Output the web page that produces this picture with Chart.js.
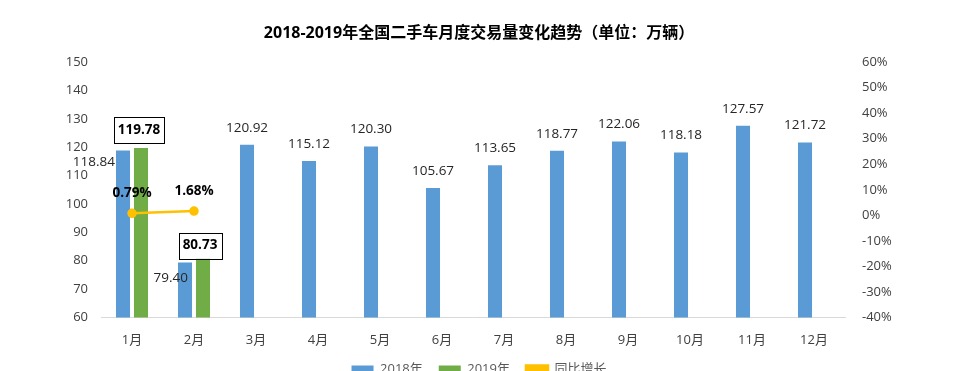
<!DOCTYPE html>
<html>
<head>
<meta charset="utf-8">
<script src="https://cdn.jsdelivr.net/npm/chart.js@4.4.1/dist/chart.umd.min.js"></script>
<style>
  html, body { margin: 0; padding: 0; background: #fff; overflow: hidden; }
  #wrap { width: 958px; height: 386px; }
</style>
</head>
<body>
<div id="wrap"><canvas id="chart"></canvas></div>
<script>
const months = ['1月', '2月', '3月', '4月', '5月', '6月', '7月', '8月', '9月', '10月', '11月', '12月'];
const sales2018 = [118.84, 79.40, 120.92, 115.12, 120.30, 105.67, 113.65, 118.77, 122.06, 118.18, 127.57, 121.72];
const sales2019 = [119.78, 80.73, null, null, null, null, null, null, null, null, null, null];
const growth = [0.79, 1.68, null, null, null, null, null, null, null, null, null, null];

const FONT = '"Open Sans", "Noto Sans CJK SC", sans-serif';
const BLUE = '#5b9bd5';
const GREEN = '#70ad47';
const YELLOW = '#ffc000';

// draws value labels the way the excel chart had them
const labelPlugin = {
  id: 'labels',
  afterDatasetsDraw(chart) {
    const ctx = chart.ctx;
    ctx.save();
    ctx.textBaseline = 'middle';

    // 2018 bars
    chart.getDatasetMeta(0).data.forEach((bar, i) => {
      const txt = sales2018[i].toFixed(2);
      ctx.font = '13.5px ' + FONT;
      ctx.fillStyle = '#262626';
      if (i === 0) {
        ctx.textAlign = 'right';
        ctx.fillText(txt, bar.x - bar.width / 2 - 1, bar.y + 12);
      } else if (i === 1) {
        ctx.textAlign = 'right';
        ctx.fillText(txt, bar.x + 3, bar.y + 16);
      } else {
        ctx.textAlign = 'center';
        ctx.fillText(txt, bar.x, bar.y - 17);
      }
    });

    // 2019 bars, bold with a box
    chart.getDatasetMeta(1).data.forEach((bar, i) => {
      if (sales2019[i] == null) return;
      const txt = sales2019[i].toFixed(2);
      ctx.font = 'bold 13.5px ' + FONT;
      ctx.textAlign = 'center';
      const w = ctx.measureText(txt).width + 8;
      const cx = bar.x - 2 - i;
      const cy = bar.y - 18 + i * 5;
      ctx.fillStyle = '#fff';
      ctx.fillRect(cx - w / 2, cy - 13, w, 26);
      ctx.strokeStyle = '#000';
      ctx.lineWidth = 1;
      ctx.strokeRect(Math.round(cx - w / 2) + 0.5, Math.round(cy - 13) + 0.5, Math.round(w), 26);
      ctx.fillStyle = '#000';
      ctx.fillText(txt, cx, cy);
    });

    // growth line
    chart.getDatasetMeta(2).data.forEach((pt, i) => {
      if (growth[i] == null) return;
      ctx.font = 'bold 13.5px ' + FONT;
      ctx.textAlign = 'center';
      ctx.fillStyle = '#000';
      ctx.fillText(growth[i].toFixed(2) + '%', pt.x, pt.y - 20);
    });
    ctx.restore();
  }
};

new Chart(document.getElementById('chart'), {
  type: 'bar',
  data: {
    labels: months,
    datasets: [
      {
        label: '2018年',
        data: sales2018,
        backgroundColor: BLUE,
        yAxisID: 'y',
        order: 2,
        categoryPercentage: 0.58,
        barPercentage: 0.78
      },
      {
        label: '2019年',
        data: sales2019,
        backgroundColor: GREEN,
        yAxisID: 'y',
        order: 2,
        categoryPercentage: 0.58,
        barPercentage: 0.78
      },
      {
        type: 'line',
        label: '同比增长',
        data: growth,
        borderColor: YELLOW,
        backgroundColor: YELLOW,
        borderWidth: 2.5,
        pointRadius: 3.5,
        pointBackgroundColor: YELLOW,
        pointBorderColor: YELLOW,
        yAxisID: 'y1',
        order: 1,
        spanGaps: false
      }
    ]
  },
  options: {
    responsive: true,
    maintainAspectRatio: false,
    animation: false,
    layout: { padding: { top: 20, left: 0, right: 0, bottom: 0 } },
    plugins: {
      title: {
        display: true,
        text: '2018-2019年全国二手车月度交易量变化趋势（单位：万辆）',
        color: '#000',
        font: { family: FONT, size: 16, weight: 'bold' },
        padding: { top: 4, bottom: 19 }
      },
      legend: {
        position: 'bottom',
        labels: {
          color: '#595959',
          font: { family: FONT, size: 13 },
          boxWidth: 22,
          boxHeight: 8,
          padding: 16,
          sort: (a, b) => a.datasetIndex - b.datasetIndex
        }
      },
      tooltip: { enabled: false }
    },
    scales: {
      x: {
        grid: { display: false, drawTicks: false },
        border: { color: '#d9d9d9' },
        ticks: { color: '#404040', font: { family: FONT, size: 13 }, padding: 15 },
        afterFit(scale) { scale.height -= 16; }
      },
      y: {
        position: 'left',
        min: 60,
        max: 150,
        grid: { display: false, drawTicks: false },
        border: { display: false },
        ticks: { stepSize: 10, color: '#404040', font: { family: FONT, size: 13 }, padding: 13 },
        afterFit(scale) { scale.width = 101; }
      },
      y1: {
        position: 'right',
        min: -40,
        max: 60,
        grid: { display: false, drawTicks: false },
        border: { display: false },
        ticks: {
          stepSize: 10,
          color: '#404040',
          font: { family: FONT, size: 13 },
          padding: 17,
          callback: v => v + '%'
        },
        afterFit(scale) { scale.width = 113; }
      }
    }
  },
  plugins: [labelPlugin]
});
</script>
</body>
</html>
